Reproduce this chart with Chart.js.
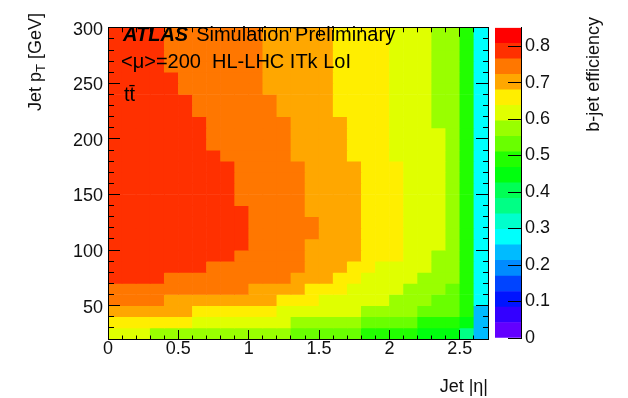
<!DOCTYPE html>
<html>
<head>
<meta charset="utf-8">
<script src="https://cdn.jsdelivr.net/npm/chart.js@4.4.0/dist/chart.umd.min.js"></script>
<style>
html,body{margin:0;padding:0;background:#fff;}
#wrap{position:relative;width:628px;height:398px;}
#effMap{position:absolute;left:0;top:0;}
#zBar{position:absolute;left:480px;top:0;}
</style>
</head>
<body>
<div id="wrap">
<canvas id="effMap" width="628" height="398"></canvas>
<canvas id="zBar" width="148" height="398"></canvas>
</div>
<script>
// bin edges
const etaEdges = [0,0.1,0.2,0.3,0.4,0.5,0.6,0.7,0.8,0.9,1.0,1.1,1.2,1.3,1.4,1.5,1.6,1.7,1.8,1.9,2.0,2.1,2.2,2.3,2.4,2.5,2.6,2.7];
const ptEdges = [20,30,40,50,60,70,80,90,100,110,120,130,140,150,160,170,180,190,200,210,220,230,240,250,260,270,280,290,300];

// b-jet efficiency, one row per pT bin (lowest first), one value per |eta| bin
const effRows = [
  [.62,.62,.62,.57,.57,.57,.57,.57,.57,.57,.57,.57,.57,.53,.53,.53,.53,.53,.49,.49,.49,.49,.45,.45,.45,.36,.23], // 20-30
  [.66,.66,.66,.66,.66,.66,.62,.62,.62,.62,.62,.62,.62,.57,.57,.57,.57,.57,.53,.53,.53,.53,.49,.49,.49,.45,.23], // 30-40
  [.70,.70,.70,.70,.70,.70,.66,.66,.66,.66,.66,.66,.62,.62,.62,.62,.62,.62,.57,.57,.57,.57,.53,.53,.53,.49,.23], // 40-50
  [.74,.74,.74,.74,.70,.70,.70,.70,.70,.70,.70,.70,.66,.66,.66,.62,.62,.62,.62,.62,.57,.57,.57,.53,.53,.49,.28], // 50-60
  [.74,.74,.74,.74,.74,.74,.74,.74,.74,.74,.70,.70,.70,.70,.66,.66,.66,.62,.62,.62,.62,.57,.57,.57,.53,.49,.28], // 60-70
  [.79,.79,.79,.79,.74,.74,.74,.74,.74,.74,.74,.74,.74,.70,.70,.70,.66,.66,.62,.62,.62,.62,.57,.57,.57,.49,.28], // 70-80
  [.79,.79,.79,.79,.79,.79,.79,.74,.74,.74,.74,.74,.74,.74,.70,.70,.70,.66,.66,.62,.62,.62,.62,.57,.57,.49,.28], // 80-90
  [.79,.79,.79,.79,.79,.79,.79,.79,.79,.74,.74,.74,.74,.74,.70,.70,.70,.70,.66,.66,.66,.62,.62,.57,.57,.49,.28], // 90-100
  [.79,.79,.79,.79,.79,.79,.79,.79,.79,.79,.74,.74,.74,.74,.70,.70,.70,.70,.66,.66,.66,.62,.62,.62,.57,.49,.28], // 100-110
  [.79,.79,.79,.79,.79,.79,.79,.79,.79,.79,.74,.74,.74,.74,.74,.70,.70,.70,.66,.66,.66,.62,.62,.62,.57,.49,.28], // 110-120
  [.79,.79,.79,.79,.79,.79,.79,.79,.79,.79,.74,.74,.74,.74,.74,.70,.70,.70,.66,.66,.66,.62,.62,.62,.57,.49,.28], // 120-130
  [.79,.79,.79,.79,.79,.79,.79,.79,.79,.79,.74,.74,.74,.74,.70,.70,.70,.70,.66,.66,.66,.62,.62,.62,.57,.49,.28], // 130-140
  [.79,.79,.79,.79,.79,.79,.79,.79,.79,.74,.74,.74,.74,.74,.70,.70,.70,.70,.66,.66,.66,.62,.62,.62,.57,.49,.28], // 140-150
  [.79,.79,.79,.79,.79,.79,.79,.79,.79,.74,.74,.74,.74,.74,.70,.70,.70,.70,.66,.66,.66,.62,.62,.62,.57,.49,.28], // 150-160
  [.79,.79,.79,.79,.79,.79,.79,.79,.79,.74,.74,.74,.74,.74,.70,.70,.70,.70,.66,.66,.66,.62,.62,.62,.57,.49,.28], // 160-170
  [.79,.79,.79,.79,.79,.79,.79,.79,.79,.74,.74,.74,.74,.74,.70,.70,.70,.70,.66,.66,.66,.62,.62,.62,.57,.49,.28], // 170-180
  [.79,.79,.79,.79,.79,.79,.79,.79,.74,.74,.74,.74,.74,.70,.70,.70,.70,.66,.66,.66,.62,.62,.62,.62,.57,.49,.28], // 180-190
  [.79,.79,.79,.79,.79,.79,.79,.74,.74,.74,.74,.74,.74,.70,.70,.70,.70,.66,.66,.66,.62,.62,.62,.62,.57,.49,.28], // 190-200
  [.79,.79,.79,.79,.79,.79,.79,.74,.74,.74,.74,.74,.74,.70,.70,.70,.70,.66,.66,.66,.62,.62,.62,.62,.57,.49,.28], // 200-210
  [.79,.79,.79,.79,.79,.79,.79,.74,.74,.74,.74,.74,.74,.70,.70,.70,.70,.66,.66,.66,.62,.62,.62,.57,.57,.49,.28], // 210-220
  [.79,.79,.79,.79,.79,.79,.74,.74,.74,.74,.74,.74,.70,.70,.70,.70,.66,.66,.66,.66,.62,.62,.62,.57,.57,.49,.28], // 220-230
  [.79,.79,.79,.79,.79,.79,.74,.74,.74,.74,.74,.74,.70,.70,.70,.70,.66,.66,.66,.66,.62,.62,.62,.57,.57,.49,.28], // 230-240
  [.79,.79,.79,.79,.79,.74,.74,.74,.74,.74,.74,.70,.70,.70,.70,.70,.66,.66,.66,.66,.62,.62,.62,.57,.57,.49,.28], // 240-250
  [.79,.79,.79,.79,.79,.74,.74,.74,.74,.74,.74,.70,.70,.70,.70,.70,.66,.66,.66,.66,.62,.62,.62,.57,.57,.49,.28], // 250-260
  [.79,.79,.79,.79,.74,.74,.74,.74,.74,.74,.74,.70,.70,.70,.70,.70,.66,.66,.66,.66,.62,.62,.62,.57,.57,.49,.28], // 260-270
  [.79,.79,.79,.79,.74,.74,.74,.74,.74,.74,.74,.70,.70,.70,.70,.70,.66,.66,.66,.66,.62,.62,.62,.57,.57,.49,.28], // 270-280
  [.79,.79,.79,.79,.74,.74,.74,.74,.74,.74,.74,.70,.70,.70,.70,.70,.66,.66,.66,.66,.62,.62,.62,.57,.57,.49,.28], // 280-290
  [.79,.79,.79,.79,.74,.74,.74,.74,.74,.74,.74,.70,.70,.70,.70,.70,.66,.66,.66,.66,.62,.62,.62,.57,.57,.49,.28]  // 290-300
];

// axis labels
const etaLabelled = [0, 0.5, 1, 1.5, 2, 2.5];
const ptLabelled = [50, 100, 150, 200, 250, 300];
const zLabelled = [0, 0.1, 0.2, 0.3, 0.4, 0.5, 0.6, 0.7, 0.8];

// colour scale (ROOT style: 20 contours, 0 - 0.85)
const zMax = 0.85;
const nContours = 20;

const FONT = "'Liberation Sans', Arial, sans-serif";
const TXT = '#111';

function levelColor(k){
    const idx = Math.floor((k + 0.99) * 50 / nContours);
    const hue = 280 - (idx + 1) * 5.6;
    return `hsl(${hue},100%,50%)`;
}

function effColor(v){
    let k = Math.floor(v / zMax * nContours);
    k = Math.max(0, Math.min(nContours - 1, k));
    return levelColor(k);
}

function near(v, list){
    return list.some(t => Math.abs(t - v) < 1e-6);
}

function onStep(v, step){
    return Math.abs(v / step - Math.round(v / step)) < 1e-6;
}

const cells = [];
const cellColors = [];

effRows.forEach((row, r) => {
    row.forEach((v, c) => {
        cells.push({
            x: (etaEdges[c] + etaEdges[c + 1]) / 2,
            y: [ptEdges[r], ptEdges[r + 1]]
        });
        cellColors.push(effColor(v));
    });
});

const tickFont = {family: FONT, size: 18};

const plotLabels = {
    id: 'plotLabels',
    afterDraw(chart){
        const ctx = chart.ctx;
        ctx.save();
        ctx.fillStyle = '#000';
        ctx.textBaseline = 'alphabetic';
        ctx.textAlign = 'left';

        ctx.font = `italic bold 20px ${FONT}`;
        ctx.fillText('ATLAS', 123, 41);
        const w = ctx.measureText('ATLAS').width;
        ctx.font = `20px ${FONT}`;
        ctx.fillText('Simulation Preliminary', 123 + w + 8, 41);
        ctx.fillText('<\u03bc>=200  HL-LHC ITk LoI', 121, 68);
        ctx.fillText('tt\u0304', 124, 101);

        // y axis title with subscript
        ctx.fillStyle = TXT;
        ctx.translate(41, 13);
        ctx.rotate(-Math.PI / 2);
        ctx.font = `18px ${FONT}`;
        const p1 = 'Jet p', p3 = ' [GeV]';
        const w1 = ctx.measureText(p1).width;
        const w3 = ctx.measureText(p3).width;
        ctx.font = `13px ${FONT}`;
        const w2 = ctx.measureText('T').width;
        let x0 = -(w1 + w2 + w3);
        ctx.font = `18px ${FONT}`;
        ctx.fillText(p1, x0, 0);
        ctx.font = `13px ${FONT}`;
        ctx.fillText('T', x0 + w1, 4);
        ctx.font = `18px ${FONT}`;
        ctx.fillText(p3, x0 + w1 + w2, 0);
        ctx.restore();
    }
};

new Chart(document.getElementById('effMap'), {
    type: 'bar',
    data: {
        datasets: [{
            data: cells,
            backgroundColor: cellColors,
            borderWidth: 0,
            barPercentage: 1,
            categoryPercentage: 1,
            xAxisID: 'x',
            yAxisID: 'y'
        }]
    },
    options: {
        responsive: false,
        maintainAspectRatio: false,
        animation: false,
        events: [],
        layout: {padding: {left: 0, right: 140, top: 13, bottom: 0}},
        plugins: {legend: {display: false}, tooltip: {enabled: false}},
        scales: {
            x: {
                type: 'linear', position: 'bottom', min: 0, max: 2.7, offset: false,
                grid: {
                    z: 1, drawOnChartArea: false, offset: false, tickLength: -9, tickColor: '#000', tickWidth: 1,
                    tickBorderDash: c => onStep(c.tick.value, 0.5) ? [] : [4.5, 50]
                },
                border: {display: true, color: '#000', width: 1, z: 1},
                ticks: {
                    stepSize: 0.1, autoSkip: false, maxRotation: 0, padding: 8,
                    font: tickFont, color: TXT,
                    callback: v => near(v, etaLabelled) ? String(Math.round(v * 10) / 10) : ''
                },
                title: {
                    display: true, text: 'Jet |\u03b7|', align: 'end',
                    font: tickFont, color: TXT, padding: {top: 0, bottom: 0}
                },
                afterFit: s => { s.height = 59; }
            },
            x2: {
                type: 'linear', position: 'top', min: 0, max: 2.7, offset: false,
                grid: {
                    z: 1, drawOnChartArea: false, offset: false, tickLength: -9, tickColor: '#000',
                    tickBorderDash: c => onStep(c.tick.value, 0.5) ? [] : [4.5, 4.5],
                    tickBorderDashOffset: c => onStep(c.tick.value, 0.5) ? 0 : 4.5
                },
                border: {display: true, color: '#000', width: 1, z: 1},
                ticks: {stepSize: 0.1, autoSkip: false, display: false, callback: () => ''},
                afterFit: s => { s.height = 0; }
            },
            y: {
                type: 'linear', position: 'left', min: 20, max: 300,
                grid: {
                    z: 1, drawOnChartArea: false, tickLength: -12, tickColor: '#000',
                    tickBorderDash: c => onStep(c.tick.value, 50) ? [] : [6, 6],
                    tickBorderDashOffset: c => onStep(c.tick.value, 50) ? 0 : 6
                },
                border: {display: true, color: '#000', width: 1, z: 1},
                ticks: {
                    stepSize: 10, autoSkip: false, padding: 17, labelOffset: 2,
                    font: tickFont, color: TXT,
                    callback: v => near(v, ptLabelled) ? String(v) : ''
                },
                afterFit: s => { s.width = 108; }
            },
            y2: {
                type: 'linear', position: 'right', min: 20, max: 300,
                grid: {
                    z: 1, drawOnChartArea: false, tickLength: -12, tickColor: '#000',
                    tickBorderDash: c => onStep(c.tick.value, 50) ? [] : [6, 50]
                },
                border: {display: true, color: '#000', width: 1, z: 1},
                ticks: {stepSize: 10, autoSkip: false, display: false, callback: () => ''},
                afterFit: s => { s.width = 0; }
            }
        }
    },
    plugins: [plotLabels]
});

// colour bar
const zEdges = [];
for (let k = 0; k <= nContours; k++) zEdges.push(k * zMax / nContours);

const zTitle = {
    id: 'zTitle',
    afterDraw(chart){
        const ctx = chart.ctx;
        ctx.save();
        ctx.fillStyle = TXT;
        ctx.font = `18px ${FONT}`;
        ctx.textAlign = 'right';
        ctx.textBaseline = 'alphabetic';
        ctx.translate(119, 17);
        ctx.rotate(-Math.PI / 2);
        ctx.fillText('b-jet efficiency', 0, 0);
        ctx.restore();
    }
};

new Chart(document.getElementById('zBar'), {
    type: 'bar',
    data: {
        labels: [''],
        datasets: zEdges.slice(0, -1).map((lo, k) => ({
            data: [[lo, zEdges[k + 1]]],
            backgroundColor: levelColor(k),
            borderWidth: 0,
            barPercentage: 1,
            categoryPercentage: 1,
            grouped: false
        }))
    },
    options: {
        responsive: false,
        maintainAspectRatio: false,
        animation: false,
        events: [],
        layout: {padding: {left: 15, right: 0, top: 13, bottom: 60}},
        plugins: {legend: {display: false}, tooltip: {enabled: false}},
        scales: {
            x: {display: false},
            y: {
                position: 'right', min: 0, max: zMax,
                grid: {z: 1, drawOnChartArea: false, tickLength: -13, tickColor: '#000'},
                border: {display: true, color: '#000', width: 1, z: 1},
                ticks: {
                    stepSize: 0.1, autoSkip: false, padding: 17, includeBounds: false,
                    font: tickFont, color: TXT,
                    callback: v => near(v, zLabelled) ? String(Math.round(v * 10) / 10) : null
                },
                afterFit: s => { s.width = 107; }
            }
        }
    },
    plugins: [zTitle]
});
</script>
</body>
</html>
